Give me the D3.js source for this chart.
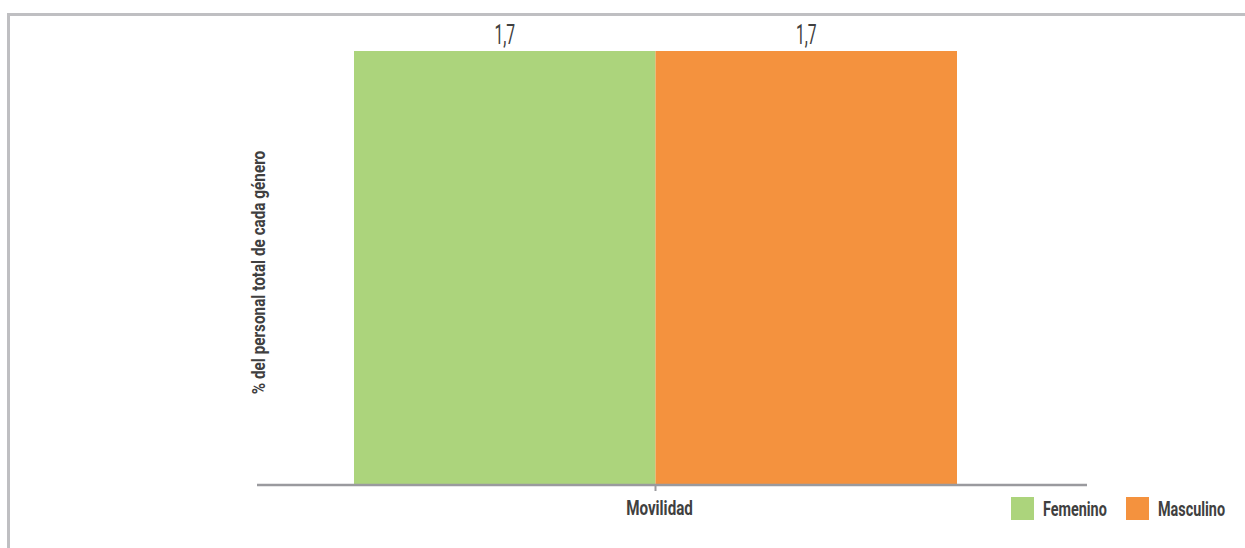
<!DOCTYPE html>
<html>
<head>
<meta charset="utf-8">
<script src="https://cdn.jsdelivr.net/npm/d3@7"></script>
<style>
  html, body { margin: 0; padding: 0; background: #fff; }
  svg { display: block; }
  text { font-family: "Roboto", "Liberation Sans", sans-serif; fill: #404040; }
</style>
</head>
<body>
<svg id="chart" width="1245" height="548"></svg>
<script>
// Chart data
const categories = ["Movilidad"];
const seriesNames = ["Femenino", "Masculino"];
const seriesValues = [[1.7], [1.7]]; // per series, per category
const seriesColors = ["#acd47c", "#f4923e"];
const yTitle = "% del personal total de cada género";

const W = 1245, H = 548;
const svg = d3.select("#chart");

// Condensed look: draw text horizontally squeezed
const SQ = 0.74;
function label(parent, x, y, str, opts) {
  const g = parent.append("g").attr("transform", `translate(${x},${y}) rotate(${opts.rotate || 0}) scale(${opts.sx || SQ},1)`);
  return g.append("text")
    .attr("text-anchor", opts.anchor || "start")
    .attr("font-size", opts.size)
    .attr("font-weight", opts.weight || "normal")
    .text(str);
}

// Frame lines (top and left)
svg.append("line").attr("x1", 8).attr("x2", W).attr("y1", 14.5).attr("y2", 14.5)
  .attr("stroke", "#bfbfc2").attr("stroke-width", 3);
svg.append("line").attr("x1", 8.5).attr("x2", 8.5).attr("y1", 13).attr("y2", H)
  .attr("stroke", "#bfbfc2").attr("stroke-width", 3);

const plot = { left: 257, right: 1087, top: 51, bottom: 484, center: 655.5 };

// Category band centred on the tick; bars fill the middle part of it
const x0 = d3.scaleBand().domain(categories)
  .range([plot.left, 2 * plot.center - plot.left]).paddingInner(0).paddingOuter(0);
const groupWidth = 603;
const x1 = d3.scaleBand().domain(seriesNames)
  .range([(x0.bandwidth() - groupWidth) / 2, (x0.bandwidth() + groupWidth) / 2]);

const y = d3.scaleLinear().domain([0, 1.7]).range([plot.bottom, plot.top]);

const fmt = v => d3.format(".1f")(v).replace(".", ",");

categories.forEach((cat, ci) => {
  const g = svg.append("g").attr("transform", `translate(${x0(cat)},0)`);
  seriesNames.forEach((s, si) => {
    const v = seriesValues[si][ci];
    g.append("rect")
      .attr("x", x1(s))
      .attr("y", y(v))
      .attr("width", x1.bandwidth())
      .attr("height", y(0) - y(v))
      .attr("fill", seriesColors[si]);
    label(g, x1(s) + x1.bandwidth() / 2, y(v) - 7, fmt(v),
      { size: 27, weight: 400, anchor: "middle", sx: 0.58 });
  });
});

// X axis baseline (runs a little past the band on the right)
svg.append("line").attr("x1", plot.left).attr("x2", plot.right)
  .attr("y1", plot.bottom + 1).attr("y2", plot.bottom + 1)
  .attr("stroke", "#9a9a9e").attr("stroke-width", 2.5);

const xAxis = d3.axisBottom(x0).tickSize(6).tickSizeOuter(0).tickPadding(10);
const ax = svg.append("g").attr("transform", `translate(0,${plot.bottom + 1})`).call(xAxis);
ax.select(".domain").remove();
ax.selectAll(".tick line").attr("stroke", "#9a9a9e").attr("stroke-width", 2);
ax.selectAll(".tick text").attr("font-size", 20).attr("font-weight", "bold")
  .attr("fill", "#404040")
  .attr("transform", "translate(4,0) scale(0.76,1)")
  .style("font-family", '"Roboto", "Liberation Sans", sans-serif');

// Y axis title
label(svg, 265, (152 + 393) / 2, yTitle,
  { size: 18, weight: "bold", anchor: "middle", rotate: -90, sx: 0.85 });

// Legend
const legendX = [1011, 1126];
seriesNames.forEach((s, i) => {
  const lg = svg.append("g").attr("transform", `translate(${legendX[i]},497)`);
  lg.append("rect").attr("width", 23).attr("height", 23).attr("fill", seriesColors[i]);
  label(lg, 32, 19, s, { size: 20, weight: "bold", sx: 0.72 });
});
</script>
</body>
</html>
